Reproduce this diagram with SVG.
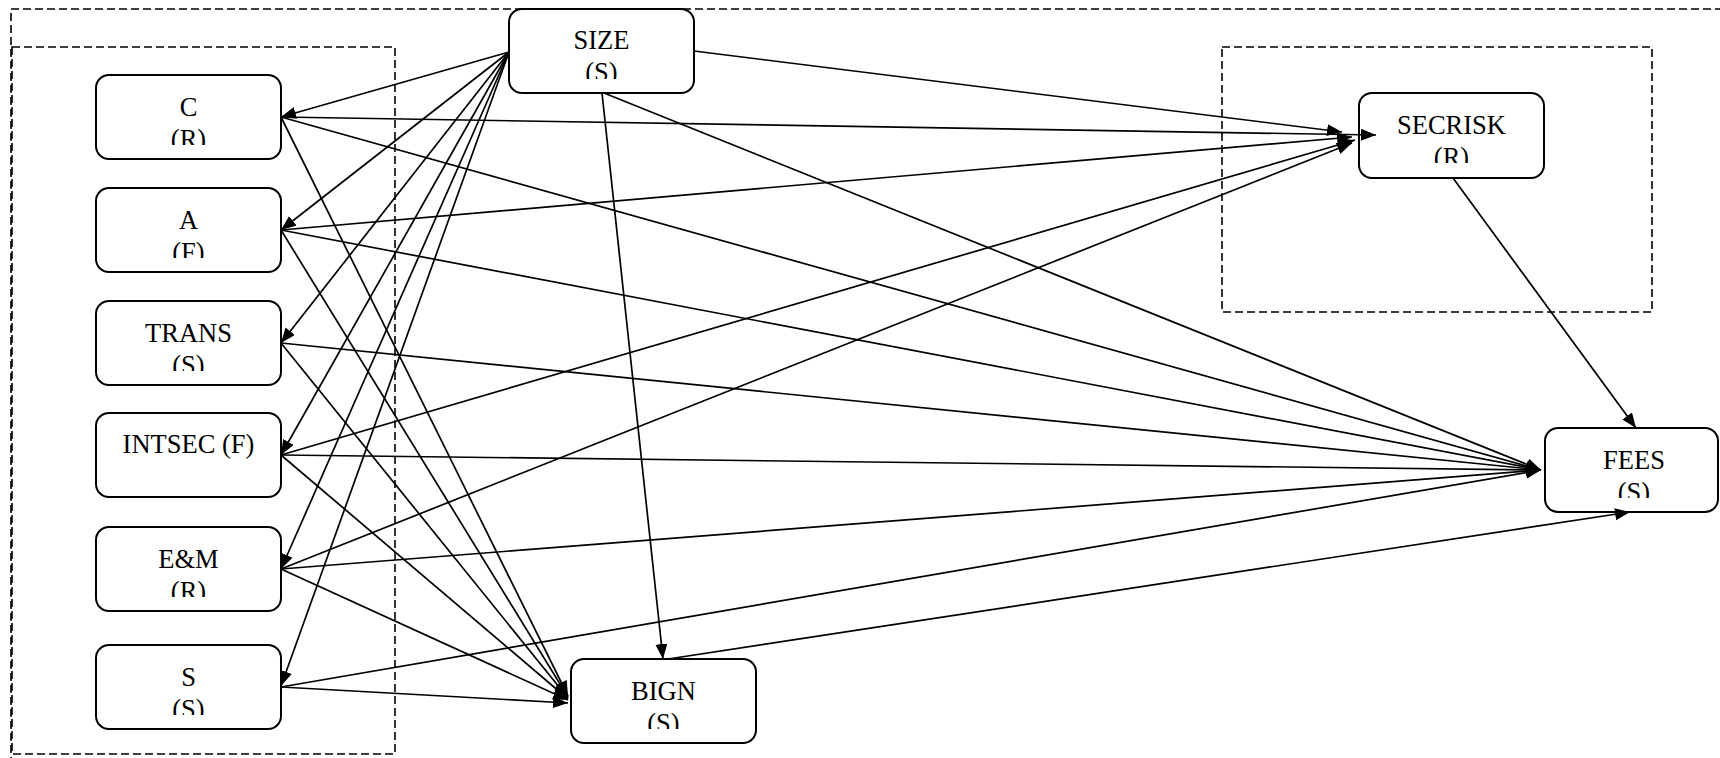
<svg xmlns="http://www.w3.org/2000/svg" width="1720" height="758" viewBox="0 0 1720 758">
<style>
.node rect{fill:#fff;stroke:#000;stroke-width:2}
.node text{font-family:"Liberation Serif","Times New Roman",serif;font-size:26.5px;fill:#000;text-anchor:middle}
.frame{fill:none;stroke:#000;stroke-width:1.6;stroke-dasharray:8 4}
.edges line{stroke:#000;stroke-width:1.7;marker-end:url(#ah)}
</style>
<defs>
<marker id="ah" markerUnits="userSpaceOnUse" markerWidth="16" markerHeight="13" refX="15" refY="6" orient="auto">
<path d="M0,0 L15,6 L0,12 z" fill="#000"/>
</marker>
<clipPath id="cSIZE"><rect x="509" y="9" width="185" height="70"/></clipPath>
<clipPath id="cC"><rect x="96" y="75" width="185" height="70"/></clipPath>
<clipPath id="cA"><rect x="96" y="188" width="185" height="70"/></clipPath>
<clipPath id="cTRANS"><rect x="96" y="301" width="185" height="70"/></clipPath>
<clipPath id="cINTSEC"><rect x="96" y="413" width="185" height="70"/></clipPath>
<clipPath id="cEM"><rect x="96" y="527" width="185" height="70"/></clipPath>
<clipPath id="cS"><rect x="96" y="645" width="185" height="70"/></clipPath>
<clipPath id="cBIGN"><rect x="571" y="659" width="185" height="70"/></clipPath>
<clipPath id="cSECRISK"><rect x="1359" y="93" width="185" height="70"/></clipPath>
<clipPath id="cFEES"><rect x="1545" y="428" width="173" height="70"/></clipPath>
</defs>
<rect width="1720" height="758" fill="#fff"/>
<g id="frames">
<rect class="frame" x="11" y="9" width="1800" height="900"/>
<rect class="frame" x="12" y="47" width="383" height="707"/>
<rect class="frame" x="1222" y="47" width="430" height="265"/>
</g>
<g id="nodes">
<g id="node-SIZE" class="node"><rect x="509" y="9" width="185" height="84" rx="13"/><g clip-path="url(#cSIZE)"><text x="601.5" y="49">SIZE</text><text x="601.5" y="81">(S)</text></g></g>
<g id="node-C" class="node"><rect x="96" y="75" width="185" height="84" rx="13"/><g clip-path="url(#cC)"><text x="188.5" y="116">C</text><text x="188.5" y="148">(R)</text></g></g>
<g id="node-A" class="node"><rect x="96" y="188" width="185" height="84" rx="13"/><g clip-path="url(#cA)"><text x="188.5" y="229">A</text><text x="188.5" y="261">(F)</text></g></g>
<g id="node-TRANS" class="node"><rect x="96" y="301" width="185" height="84" rx="13"/><g clip-path="url(#cTRANS)"><text x="188.5" y="342">TRANS</text><text x="188.5" y="374">(S)</text></g></g>
<g id="node-INTSEC" class="node"><rect x="96" y="413" width="185" height="84" rx="13"/><g clip-path="url(#cINTSEC)"><text x="188.5" y="453">INTSEC (F)</text></g></g>
<g id="node-EM" class="node"><rect x="96" y="527" width="185" height="84" rx="13"/><g clip-path="url(#cEM)"><text x="188.5" y="568">E&amp;M</text><text x="188.5" y="600">(R)</text></g></g>
<g id="node-S" class="node"><rect x="96" y="645" width="185" height="84" rx="13"/><g clip-path="url(#cS)"><text x="188.5" y="686">S</text><text x="188.5" y="718">(S)</text></g></g>
<g id="node-BIGN" class="node"><rect x="571" y="659" width="185" height="84" rx="13"/><g clip-path="url(#cBIGN)"><text x="663.5" y="700">BIGN</text><text x="663.5" y="732">(S)</text></g></g>
<g id="node-SECRISK" class="node"><rect x="1359" y="93" width="185" height="85" rx="13"/><g clip-path="url(#cSECRISK)"><text x="1451.5" y="134">SECRISK</text><text x="1451.5" y="166">(R)</text></g></g>
<g id="node-FEES" class="node"><rect x="1545" y="428" width="173" height="84" rx="13"/><g clip-path="url(#cFEES)"><text x="1634" y="469">FEES</text><text x="1634" y="501">(S)</text></g></g>
</g>
<g id="connectors" class="edges">
<line x1="509" y1="52" x2="281" y2="117"/>
<line x1="509" y1="52" x2="281" y2="230"/>
<line x1="509" y1="52" x2="281" y2="343"/>
<line x1="509" y1="52" x2="281" y2="455"/>
<line x1="509" y1="52" x2="281" y2="569"/>
<line x1="509" y1="52" x2="281" y2="686"/>
<line x1="694" y1="51" x2="1342" y2="132"/>
<line x1="602" y1="93" x2="663" y2="659"/>
<line x1="604" y1="93" x2="1541" y2="470"/>
<line x1="1453" y1="178" x2="1636" y2="428"/>
<line x1="281" y1="117" x2="1376" y2="135"/>
<line x1="281" y1="117" x2="1541" y2="470"/>
<line x1="281" y1="117" x2="568" y2="696"/>
<line x1="281" y1="230" x2="1352" y2="137"/>
<line x1="281" y1="230" x2="1541" y2="470"/>
<line x1="281" y1="230" x2="568" y2="697"/>
<line x1="281" y1="343" x2="1541" y2="470"/>
<line x1="281" y1="343" x2="568" y2="698"/>
<line x1="281" y1="455" x2="1355" y2="140"/>
<line x1="281" y1="455" x2="1541" y2="470"/>
<line x1="281" y1="455" x2="568" y2="699"/>
<line x1="281" y1="569" x2="1352" y2="143"/>
<line x1="281" y1="569" x2="1541" y2="470"/>
<line x1="281" y1="569" x2="568" y2="700"/>
<line x1="281" y1="687" x2="1541" y2="470"/>
<line x1="281" y1="687" x2="568" y2="703"/>
<line x1="668" y1="659" x2="1630" y2="512"/>
</g>
</svg>
